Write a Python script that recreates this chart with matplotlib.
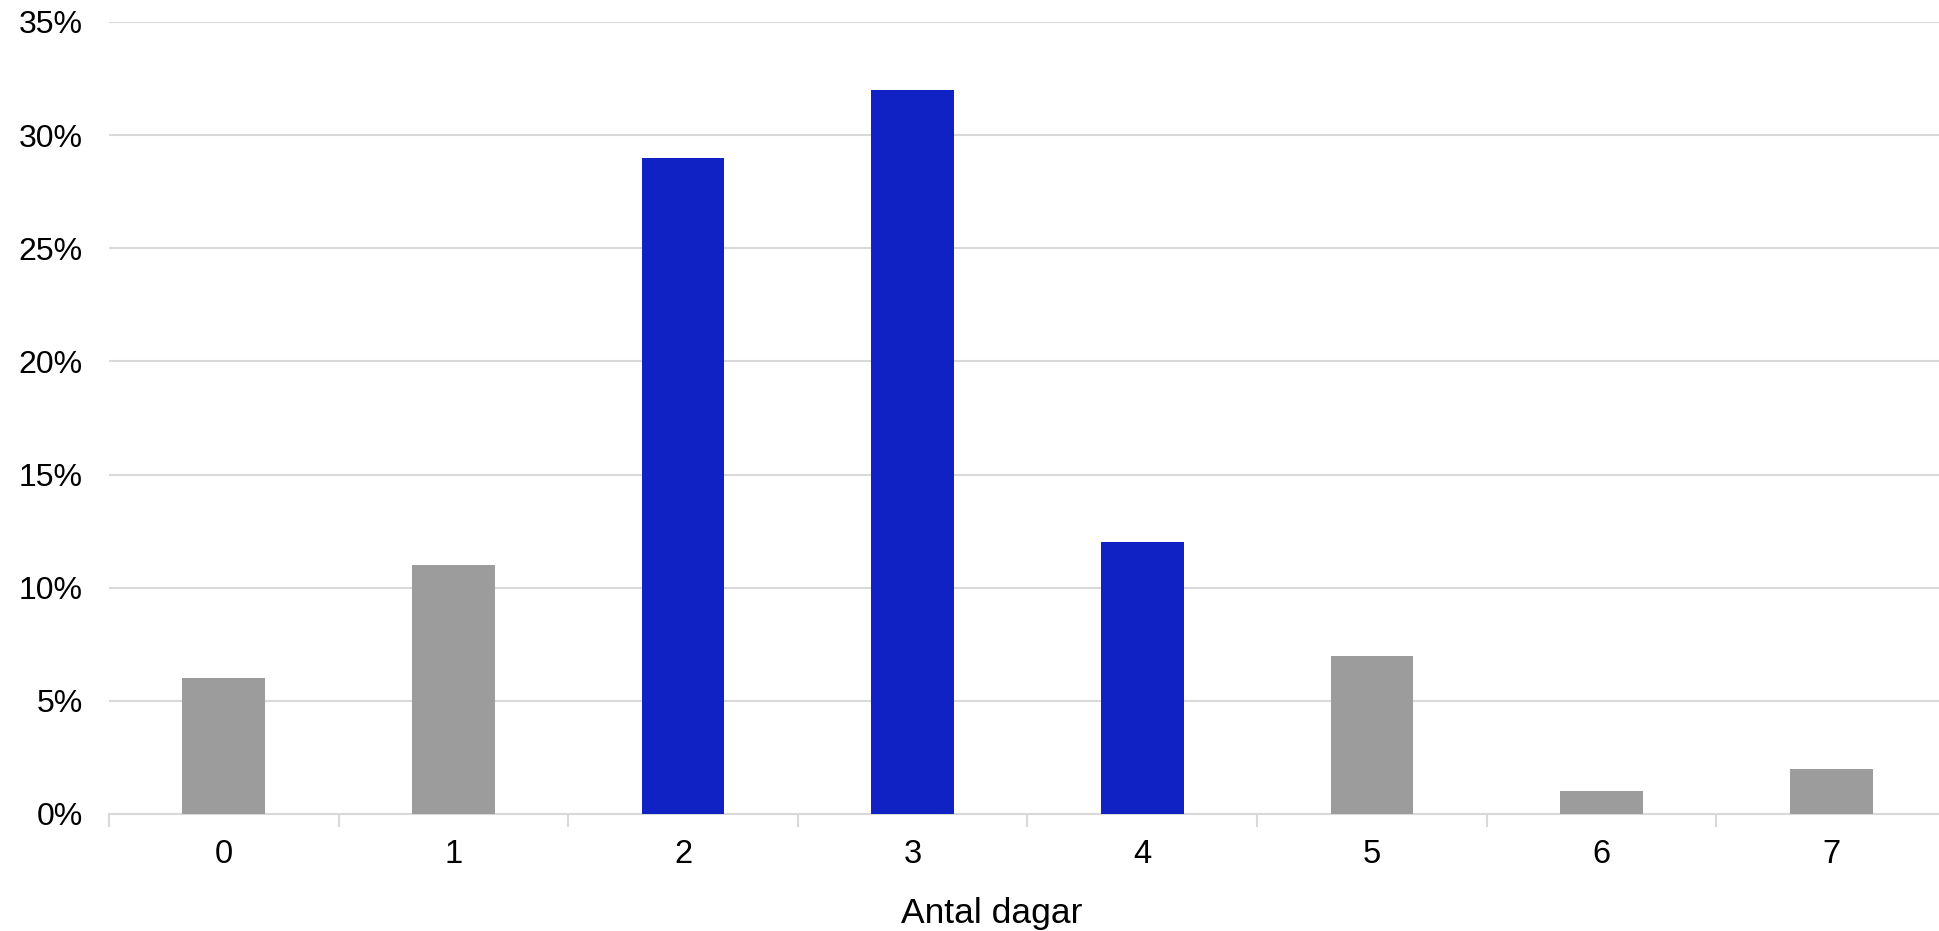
import matplotlib
matplotlib.use("Agg")
import matplotlib.pyplot as plt
from matplotlib.ticker import FuncFormatter, MultipleLocator

plt.rcParams['font.family'] = ['Liberation Sans', 'DejaVu Sans']

# andel per antal dagar
days = ['0', '1', '2', '3', '4', '5', '6', '7']
share = [6, 11, 29, 32, 12, 7, 1, 2]
highlight = [False, False, True, True, True, False, False, False]

GRAY = '#9c9c9c'
BLUE = '#1022c4'
GRID = '#d9d9d9'

fig = plt.figure(figsize=(19.39, 9.31), dpi=100)
ax = fig.add_axes([0.0562, 0.1257, 0.9474, 0.8507])

x = list(range(len(days)))
colors = [BLUE if h else GRAY for h in highlight]
ax.bar(x, share, width=0.36, color=colors, zorder=3)

ax.set_xlim(-0.5, len(days) - 0.5)
ax.set_ylim(0, 35)
ax.yaxis.set_major_locator(MultipleLocator(5))
ax.yaxis.set_major_formatter(FuncFormatter(lambda v, p: f'{v:.0f}%'))
ax.grid(axis='y', color=GRID, linewidth=1.5, zorder=0)

ax.set_xticks(x)
ax.set_xticklabels(days)
ax.set_xticks([i - 0.5 for i in range(len(days) + 1)], minor=True)
ax.tick_params(axis='x', which='major', length=0, pad=18, labelsize=23.5)
ax.tick_params(axis='x', which='minor', length=9, width=1.5, color=GRID)
ax.tick_params(axis='y', length=0, pad=19, labelsize=23)

for s in ['top', 'right', 'left']:
    ax.spines[s].set_visible(False)
ax.spines['bottom'].set_color(GRID)
ax.spines['bottom'].set_linewidth(1.5)

ax.set_xlabel('Antal dagar', fontsize=25.5, va='baseline')
ax.xaxis.set_label_coords(0.5116, 0.0086, transform=fig.transFigure)

fig.savefig('out.png', dpi=100)
